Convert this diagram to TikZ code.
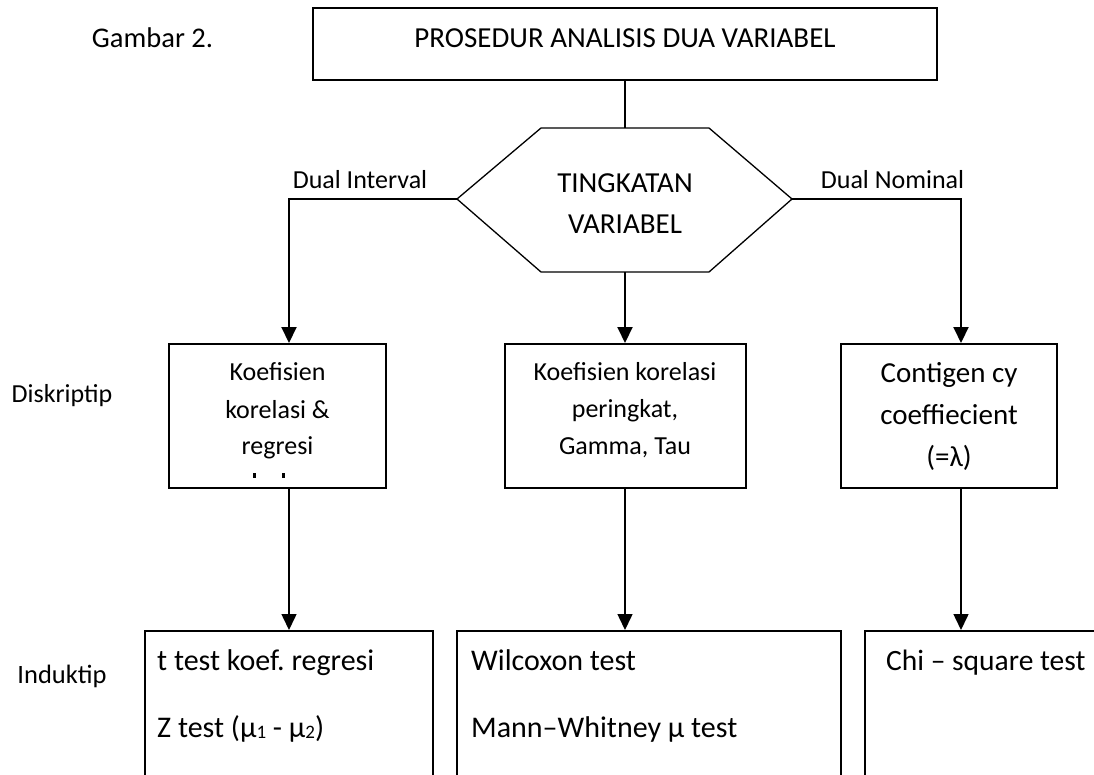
\documentclass[tikz,border=0pt]{standalone}
\usepackage{fontspec}
\setmainfont{Carlito}
\usetikzlibrary{arrows.meta}
\frenchspacing
\newcommand{\fsz}[1]{\fontsize{#1}{#1}\selectfont}
\newcommand{\lowdigit}[1]{\raisebox{-1pt}{\fsz{19}#1}}
\begin{document}
\begin{tikzpicture}[x=1pt,y=-1pt,
  box/.style={draw,line width=2pt,inner sep=0pt},
  txt/.style={anchor=base,inner sep=0pt},
  ltxt/.style={anchor=base west,inner sep=0pt},
  link/.style={line width=2pt},
  arr/.style={line width=2pt,-{Triangle[length=16pt,width=15pt]}},
  arrthin/.style={line width=1.5pt,-{Triangle[length=16pt,width=15pt]}},
]
\path[use as bounding box] (0,0) rectangle (1094,774);
\clip (0,0) rectangle (1094,774);

% caption and row labels
\node[txt,font=\fsz{28.5}] (cap) at (152.5,47) {Gambar 2.};
\node[txt,font=\fsz{26}] (lblDesc) at (62,402) {Diskriptip};
\node[txt,font=\fsz{26.5}] (lblInd) at (62,683) {Induktip};

% title box
\node[box,minimum width=624pt,minimum height=72pt] (top) at (625,44) {};
\node[txt,font=\fsz{29}] (toptext) at (625,47) {PROSEDUR ANALISIS DUA VARIABEL};

% decision hexagon
\coordinate (hL) at (457,199);
\coordinate (hTL) at (541,128);
\coordinate (hTR) at (709,128);
\coordinate (hR) at (792,199);
\coordinate (hBR) at (709,272);
\coordinate (hBL) at (541,272);
\coordinate (hT) at (625,128);
\coordinate (hB) at (625,272);
\draw[line width=1.3pt,line join=miter] (hL) -- (hTL) -- (hTR) -- (hR) -- (hBR) -- (hBL) -- cycle;
\node[txt,font=\fsz{29}] (hex1) at (625,192) {TINGKATAN};
\node[txt,font=\fsz{29}] (hex2) at (625,233) {VARIABEL};

\draw[link] (top.south) -- (hT);

% branch labels
\node[txt,font=\fsz{26}] (lblInt) at (360,188) {Dual Interval};
\node[txt,font=\fsz{26}] (lblNom) at (892.5,188) {Dual Nominal};

% descriptive boxes
\node[box,minimum width=217pt,minimum height=144pt] (dL) at (277.5,416) {};
\node[box,minimum width=241.5pt,minimum height=144pt] (dM) at (625.25,416) {};
\node[box,minimum width=216pt,minimum height=144pt] (dR) at (949,416) {};

\node[txt,font=\fsz{26}] at (277.5,380) {Koefisien};
\node[txt,font=\fsz{26}] at (277.5,418) {korelasi \&};
\node[txt,font=\fsz{26}] at (277.5,454) {regresi};
\fill (253,473) rectangle (255.5,478);
\fill (282,473) rectangle (284.5,478);

\node[txt,font=\fsz{26}] at (625,380) {Koefisien korelasi};
\node[txt,font=\fsz{26}] at (625,417) {peringkat,};
\node[txt,font=\fsz{26}] at (625,454) {Gamma, Tau};

\node[txt,font=\fsz{29}] at (949,382) {Contigen cy};
\node[txt,font=\fsz{29}] at (949,424) {coeffiecient};
\node[txt,font=\fsz{29}] at (949,466) {(=λ)};

% inferential boxes (open below the page edge)
\node[box,minimum width=288pt,minimum height=169pt] (iL) at (289,715.5) {};
\node[box,minimum width=384pt,minimum height=169pt] (iM) at (649,715.5) {};
\node[box,minimum width=245pt,minimum height=169pt] (iR) at (987.5,715.5) {};

\node[ltxt,font=\fsz{30}] at (157,670) {t test koef. regresi};
\node[ltxt,font=\fsz{30}] at (157,737) {Z test (μ\lowdigit{1} - μ\lowdigit{2})};
\node[ltxt,font=\fsz{30}] at (471,670) {Wilcoxon test};
\node[ltxt,font=\fsz{30}] at (471,737) {Mann–Whitney μ test};
\node[ltxt,font=\fsz{29.5}] at (886,670) {Chi – square test};

% connectors
\coordinate (jL) at (289,199);
\coordinate (jR) at (961,199);
\draw[arr] (hL) -- (jL) -- (jL |- dL.north);
\draw[arr] (hB) -- (hB |- dM.north);
\draw[arr] (hR) -- (jR) -- (jR |- dR.north);

\draw[arrthin] (jL |- dL.south) -- (jL |- iL.north);
\draw[arrthin] (hB |- dM.south) -- (hB |- iM.north);
\draw[arrthin] (jR |- dR.south) -- (jR |- iR.north);
\end{tikzpicture}
\end{document}
